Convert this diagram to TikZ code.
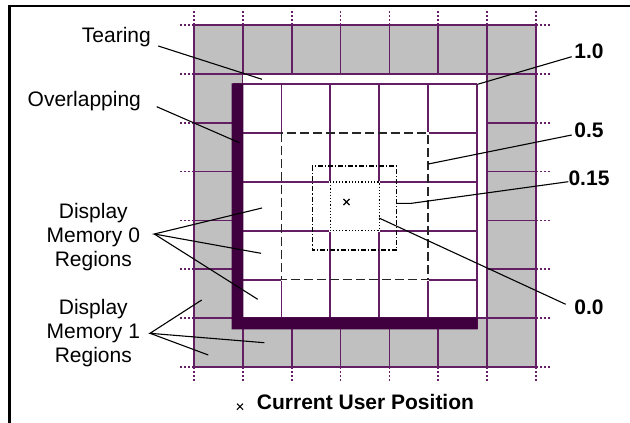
\documentclass[tikz,border=0pt]{standalone}
\usepackage{fontspec}
\setmainfont{Liberation Sans}
\usetikzlibrary{shapes.misc}
\definecolor{gridc}{RGB}{100,30,100}
\definecolor{barc}{RGB}{64,0,64}
\definecolor{fillg}{RGB}{192,192,192}
\begin{document}
\begin{tikzpicture}[x=1pt,y=-1pt,
  lbl/.style={font=\fontsize{21}{23.8}\selectfont, inner sep=0pt, text=black},
  blbl/.style={lbl, font=\fontsize{21}{23.8}\selectfont\bfseries},
  gline/.style={draw=gridc, line width=1.8pt},
  ext/.style={draw=gridc, line width=1.8pt, dash pattern=on 2pt off 2pt},
  leader/.style={draw=black, line width=1.1pt},
  xmark/.style={cross out, draw=black, line width=1.1pt, minimum size=5pt, inner sep=0pt}]
\useasboundingbox (0,0) rectangle (630,423);
% frame
\draw[line width=2.3pt] (9.5,440) -- (9.5,6) -- (650,6);
% gray outer region (Display Memory 1)
\fill[fillg] (194,25) rectangle (535.95,366.95);
\foreach \k in {0,...,7}{
  \pgfmathsetmacro{\v}{194+48.85*\k}
  \pgfmathsetmacro{\w}{25+48.85*\k}
  \draw[gline] (\v,25) -- (\v,366.95);
  \draw[gline] (194,\w) -- (535.95,\w);
  \draw[ext] (\v,25) -- (\v,11);
  \draw[ext] (\v,366.95) -- (\v,382);
  \draw[ext] (194,\w) -- (180,\w);
  \draw[ext] (535.95,\w) -- (550,\w);
}
% hole
\fill[white] (242.85,74.85) rectangle (486.1,317.1);
% inner grid (Display Memory 0)
\foreach \k in {1,...,5}{
  \pgfmathsetmacro{\v}{232.6+48.85*\k}
  \draw[gline] (\v,84.3) -- (\v,328.55);
}
\foreach \k in {0,...,4}{
  \pgfmathsetmacro{\w}{84.3+48.85*\k}
  \draw[gline] (232.6,\w) -- (476.85,\w);
}
% overlapping bar
\fill[barc] (231.7,83.3) -- (243.3,83.3) -- (243.3,317.3) -- (477.6,317.3)
  -- (477.6,329.3) -- (231.7,329.3) -- cycle;
% 0.5 dashed
\draw[white, line width=1.8pt] (281.45,133.15) rectangle (428,279.7);
\foreach \v in {330.3,379.15}{
  \draw[gline] (\v,131) -- (\v,135.3);
  \draw[gline] (\v,277.5) -- (\v,281.9);
}
\foreach \w in {182,230.85}{
  \draw[gline] (279.3,\w) -- (283.6,\w);
  \draw[gline] (425.8,\w) -- (430.2,\w);
}
\draw[black!85, line width=1.4pt, dash pattern=on 9pt off 4pt] (281.45,133.15) rectangle (428,279.7);
% 0.15 dash-dot
\draw[black, line width=1.2pt, dash pattern=on 5pt off 2pt on 1.2pt off 2pt] (312.3,166) rectangle (396.7,250);
% 0.0 dotted
\draw[white, line width=1.8pt] (330.3,182) rectangle (379.15,230.85);
\draw[black, line width=1.2pt, dash pattern=on 1.2pt off 2pt] (330.3,182) rectangle (379.15,230.85);
% current position
\node[xmark] (cx) at (346.5,202) {};
% labels
\node[lbl, anchor=base west] (tear) at (81.7,42) {Tearing};
\node[lbl, anchor=base west] (over) at (27.5,106) {Overlapping};
\node[lbl, anchor=north, align=center] (dm0) at (93.3,203) {Display\\Memory 0\\Regions};
\node[lbl, anchor=north, align=center] (dm1) at (93.3,299.3) {Display\\Memory 1\\Regions};
\node[blbl, anchor=base] (v10) at (589,58.3) {1.0};
\node[blbl, anchor=base] (v05) at (589,137.7) {0.5};
\node[blbl, anchor=base] (v015) at (589,185.7) {0.15};
\node[blbl, anchor=base] (v00) at (589,314) {0.0};
\node[blbl, anchor=base] (cup) at (365.5,409) {Current User Position};
\node[xmark] (lx) at (240,406.7) {};
% leader coordinates
\coordinate (tearA) at (158.3,46);   \coordinate (tearB) at (262,79.3);
\coordinate (overA) at (156.7,106.7); \coordinate (overB) at (239.3,142.7);
\coordinate (m0A) at (154.3,234);
\coordinate (m0B) at (262,208); \coordinate (m0C) at (261,253.3); \coordinate (m0D) at (257.7,299.3);
\coordinate (m1A) at (150,333.3);
\coordinate (m1B) at (201.7,300); \coordinate (m1C) at (264.3,342.7); \coordinate (m1D) at (208.3,355);
\coordinate (aA) at (571.7,56.7);  \coordinate (aB) at (477.5,84.3);
\coordinate (bA) at (571.7,135);   \coordinate (bB) at (428.3,164);
\coordinate (cA) at (568.3,181.7); \coordinate (cK) at (411.5,203.3); \coordinate (cB) at (396.7,203.3);
\coordinate (dA) at (565.7,304.3); \coordinate (dB) at (379,218);
\draw[leader] (tearA) -- (tearB);
\draw[leader] (overA) -- (overB);
\draw[leader] (m0B) -- (m0A) -- (m0C);
\draw[leader] (m0A) -- (m0D);
\draw[leader] (m1B) -- (m1A) -- (m1C);
\draw[leader] (m1A) -- (m1D);
\draw[leader] (aA) -- (aB);
\draw[leader] (bA) -- (bB);
\draw[leader] (cA) -- (cK) -- (cB);
\draw[leader] (dA) -- (dB);
\end{tikzpicture}
\end{document}
